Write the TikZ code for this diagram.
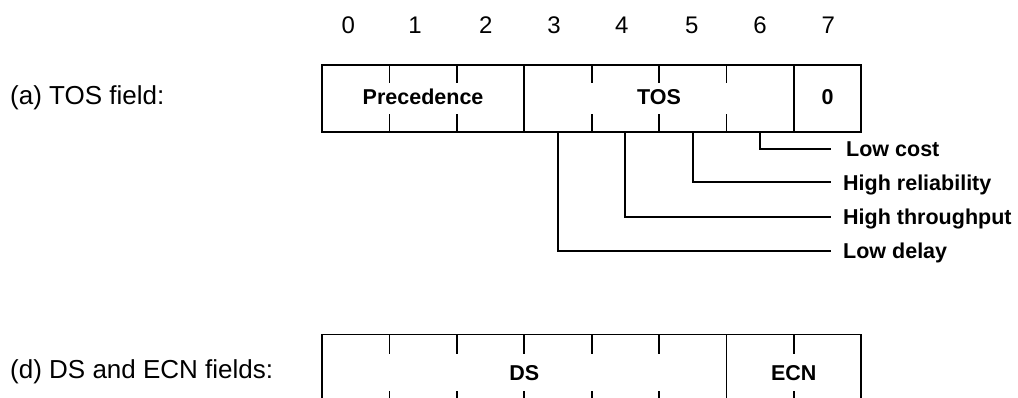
\documentclass[tikz,border=0pt]{standalone}
\usepackage{fontspec}
\setmainfont{Liberation Sans}
\begin{document}
\begin{tikzpicture}[x=1pt,y=-1pt,
  rule/.style={line width=1.8pt,line cap=rect},
  plain/.style={font=\fontsize{26}{28}\selectfont,inner sep=0pt,anchor=base west},
  bitno/.style={font=\fontsize{24}{26}\selectfont,inner sep=0pt,anchor=base},
  field/.style={font=\bfseries\fontsize{21.5}{24}\selectfont,inner sep=0pt,anchor=base},
  flag/.style={font=\bfseries\fontsize{21.5}{24}\selectfont,anchor=base west,inner xsep=13pt,inner ysep=0pt}]
\useasboundingbox (0,0) rectangle (1018,397);
\clip (0,0) rectangle (1018,397);
\def\bx{322}\def\cw{67.4}
% bit numbers
\foreach \i/\x in {0/348.3,1/415,2/485.7,3/554,4/621.7,5/691.7,6/760,7/828.3}
  \node[bitno] (b\i) at (\x,33.5) {\i};
% (a) TOS field
\node[plain] (la) at (10,104) {(a) TOS field:};
\draw[rule] (\bx,65) rectangle (\bx+8*\cw,131.7);
\foreach \k in {1,2,4,5,6}
  \draw[rule] (\bx+\k*\cw,65) -- ++(0,16.7) (\bx+\k*\cw,131.7) -- ++(0,-16.7);
\foreach \k in {3,7}
  \draw[rule] (\bx+\k*\cw,65) -- (\bx+\k*\cw,131.7);
\node[field] (prec) at (\bx+1.5*\cw,104.7) {Precedence};
\node[field] (tos) at (\bx+5*\cw,104.7) {TOS};
\node[field] (zero) at (\bx+7.5*\cw,104.7) {0};
% TOS bit meanings
\foreach \k in {3,4,5,6}
  \coordinate (c\k) at (\bx+\k*\cw+0.5*\cw,131.7);
\node[flag] (lc) at (830,149+7.7) {\hspace{3pt}Low cost};
\node[flag] (hr) at (830,182.3+7.7) {High reliability};
\node[flag] (ht) at (830,216.7+7.7) {High throughput};
\node[flag] (ld) at (830,250.7+7.7) {Low delay};
\draw[rule] (c6) |- (lc.base west |- 0,149);
\draw[rule] (c5) |- (hr.base west |- 0,182.3);
\draw[rule] (c4) |- (ht.base west |- 0,216.7);
\draw[rule] (c3) |- (ld.base west |- 0,250.7);
% (d) DS and ECN fields
\node[plain] (ld2) at (10,378) {(d) DS and ECN fields:};
\draw[rule] (\bx,334.5) rectangle (\bx+8*\cw,410);
\foreach \k in {1,2,3,4,5,7}
  \draw[rule] (\bx+\k*\cw,334.5) -- ++(0,19) (\bx+\k*\cw,410) -- ++(0,-18.5);
\draw[rule] (\bx+6*\cw,334.5) -- (\bx+6*\cw,410);
\node[field] (ds) at (\bx+3*\cw,380.5) {DS};
\node[field] (ecn) at (\bx+7*\cw,380.5) {ECN};
\end{tikzpicture}
\end{document}
